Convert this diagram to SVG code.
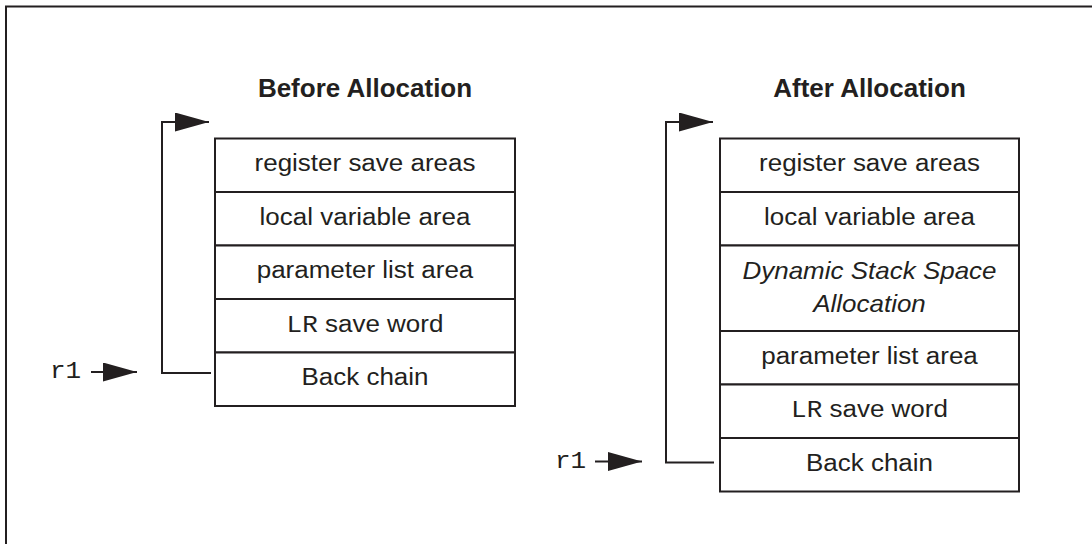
<svg xmlns="http://www.w3.org/2000/svg" width="1092" height="544" viewBox="0 0 1092 544">
<defs>
<style>
.ln{fill:none;stroke:#231f20;stroke-width:2}
.bx{fill:#fff;stroke:#231f20;stroke-width:2}
.t{font-family:"Liberation Sans",Arial,sans-serif;font-size:24px;fill:#231f20;text-anchor:middle}
.ti{font-style:italic}
.h{font-family:"Liberation Sans",Arial,sans-serif;font-size:25px;font-weight:bold;fill:#231f20;text-anchor:middle}
.m{font-family:"Liberation Mono","Courier New",monospace}
.r{font-family:"Liberation Mono","Courier New",monospace;font-size:24px;fill:#231f20}
</style>
<marker id="ah" viewBox="0 0 34 19" refX="34" refY="9.5" markerWidth="34" markerHeight="19" markerUnits="userSpaceOnUse" orient="auto">
<path d="M0,0 L34,9.5 L0,19 Z" fill="#231f20"/>
</marker>
</defs>
<rect width="1092" height="544" fill="#fff"/>
<path class="ln" d="M6,544 V6.5 H1092"/>

<g id="before">
<text class="h" transform="translate(365 97) scale(1.04 1)">Before Allocation</text>
<g id="before-stack">
<rect class="bx" x="215" y="138.5" width="300" height="53.5"/>
<rect class="bx" x="215" y="192" width="300" height="53.5"/>
<rect class="bx" x="215" y="245.5" width="300" height="53.5"/>
<rect class="bx" x="215" y="299" width="300" height="53.5"/>
<rect class="bx" x="215" y="352.5" width="300" height="53.5"/>
<text class="t" transform="translate(365 171) scale(1.083 1)">register save areas</text>
<text class="t" transform="translate(365 224.5) scale(1.083 1)">local variable area</text>
<text class="t" transform="translate(365 278) scale(1.083 1)">parameter list area</text>
<text class="t" transform="translate(365 331.5) scale(1.083 1)"><tspan class="m">LR</tspan> save word</text>
<text class="t" transform="translate(365 385) scale(1.083 1)">Back chain</text>
</g>
<text id="before-r1" class="r" transform="translate(50 378) scale(1.083 1)">r1</text>
</g>

<g id="after">
<text class="h" transform="translate(869.5 97) scale(1.04 1)">After Allocation</text>
<g id="after-stack">
<rect class="bx" x="720" y="138.5" width="299" height="53.5"/>
<rect class="bx" x="720" y="192" width="299" height="53.5"/>
<rect class="bx" x="720" y="245.5" width="299" height="85.5"/>
<rect class="bx" x="720" y="331" width="299" height="53.5"/>
<rect class="bx" x="720" y="384.5" width="299" height="53.5"/>
<rect class="bx" x="720" y="438" width="299" height="53.5"/>
<text class="t" transform="translate(869.5 171) scale(1.083 1)">register save areas</text>
<text class="t" transform="translate(869.5 224.5) scale(1.083 1)">local variable area</text>
<text class="t ti" transform="translate(869.5 279) scale(1.083 1)">Dynamic Stack Space</text>
<text class="t ti" transform="translate(869.5 312) scale(1.083 1)">Allocation</text>
<text class="t" transform="translate(869.5 363.5) scale(1.083 1)">parameter list area</text>
<text class="t" transform="translate(869.5 417) scale(1.083 1)"><tspan class="m">LR</tspan> save word</text>
<text class="t" transform="translate(869.5 470.5) scale(1.083 1)">Back chain</text>
</g>
<text id="after-r1" class="r" transform="translate(555 468) scale(1.083 1)">r1</text>
</g>

<g id="connectors">
<path class="ln" d="M211,373 H162 V122 H209" marker-end="url(#ah)"/>
<path class="ln" d="M91,372 H137" marker-end="url(#ah)"/>
<path class="ln" d="M714,462.5 H666 V122 H713" marker-end="url(#ah)"/>
<path class="ln" d="M595,461.5 H642" marker-end="url(#ah)"/>
</g>
</svg>
